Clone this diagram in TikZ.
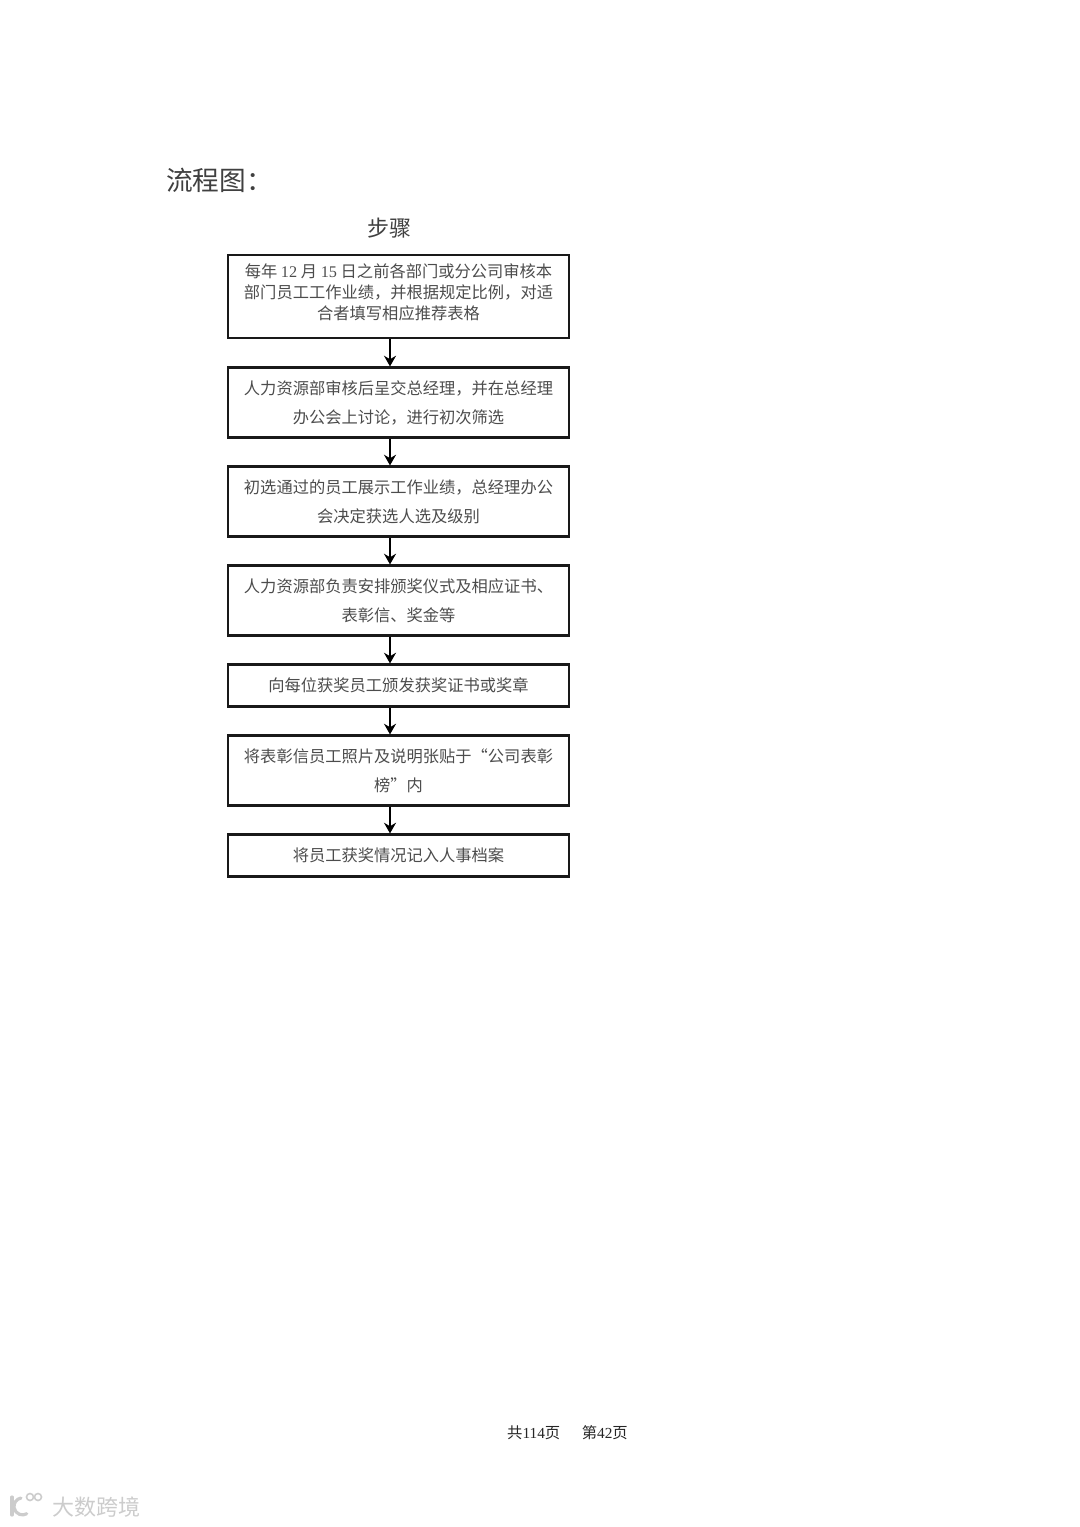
\documentclass[tikz,border=0pt]{standalone}
\usepackage{fontspec}
\setmainfont{Noto Sans CJK SC}
\newfontfamily\latin{Liberation Serif}
\usetikzlibrary{arrows.meta}

\begin{document}
\begin{tikzpicture}[x=0.75pt, y=-0.75pt, >={Stealth[length=8pt,width=9pt]},
stepbox/.style={rectangle, draw=black!90, line width=1.6pt, minimum width=256pt, align=center,
    inner sep=0pt, text=black!70, font=\fontsize{12.2}{15.8}\selectfont},
wide/.style={font=\fontsize{12.2}{21.8}\selectfont},
tall/.style={minimum height=62.5pt},
mid/.style={minimum height=52.5pt},
low/.style={minimum height=31.5pt},
link/.style={->, line width=1.6pt, black}]
    \useasboundingbox (0,0) rectangle (1080,1527);
    \node[anchor=west, inner sep=0pt, text=black!75, font=\fontsize{20}{24}\selectfont] (TITLE) at (166,180) {流程图：};
    \node[text=black!75, font=\fontsize{16.5}{20}\selectfont] (HEAD) at (389,228) {步骤};

    \node[stepbox, tall] (S1) at (398.5,296.5) {每年 {\latin 12} 月 {\latin 15} 日之前各部门或分公司审核本\\部门员工工作业绩，并根据规定比例，对适\\合者填写相应推荐表格\rule[-8pt]{0pt}{8pt}};
    \node[stepbox, mid, wide] (S2) at (398.5,402.5) {人力资源部审核后呈交总经理，并在总经理\\办公会上讨论，进行初次筛选};
    \node[stepbox, mid, wide] (S3) at (398.5,501.5) {初选通过的员工展示工作业绩，总经理办公\\会决定获选人选及级别};
    \node[stepbox, mid, wide] (S4) at (398.5,600.5) {人力资源部负责安排颁奖仪式及相应证书、\\表彰信、奖金等};
    \node[stepbox, low] (S5) at (398.5,685.5) {向每位获奖员工颁发获奖证书或奖章};
    \node[stepbox, mid, wide] (S6) at (398.5,770.5) {将表彰信员工照片及说明张贴于“公司表彰\\榜”内};
    \node[stepbox, low] (S7) at (398.5,855.5) {将员工获奖情况记入人事档案};

    \coordinate (AXIS) at (390,0);
    \foreach \a/\b in {S1/S2,S2/S3,S3/S4,S4/S5,S5/S6,S6/S7}
        \draw[link] (\a.south -| AXIS) -- (\b.north -| AXIS);

    \node[text=black!85, font=\fontsize{11.5}{14}\selectfont] (FOOT) at (567.5,1433) {共{\latin 114}页\hspace{1.4em}第{\latin 42}页};

    % watermark
    \draw[black!20, line width=2.4pt, line cap=round] (12,1497) -- (12,1515);
    \draw[black!20, line width=2.4pt, line cap=round] (21,1498) arc[start angle=-100, end angle=-300, radius=8.5];
    \draw[black!20, line width=1.2pt] (30,1497) circle (3.5) (38,1497) circle (3.5);
    \node[anchor=west, inner sep=0pt, text=black!20, font=\fontsize{16.5}{20}\selectfont] (MARK) at (52,1507) {大数跨境};
\end{tikzpicture}
\end{document}
